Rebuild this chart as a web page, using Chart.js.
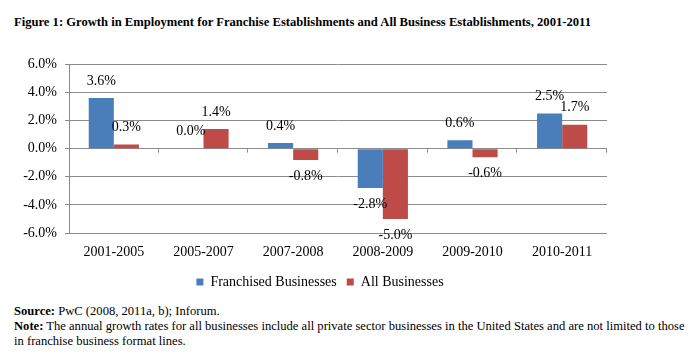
<!DOCTYPE html>
<html>
<head>
<meta charset="utf-8">
<script src="https://cdn.jsdelivr.net/npm/chart.js@4/dist/chart.umd.min.js"></script>
<style>
  body { margin: 0; background: #fff; width: 700px; height: 361px; position: relative; overflow: hidden;
         font-family: "Liberation Serif", "Times New Roman", serif; color: #000; }
  #title { position: absolute; left: 14px; top: 15px; font-weight: bold; font-size: 12.6px; white-space: nowrap; }
  #wrap { position: absolute; left: 0; top: 48px; width: 640px; height: 251px; }
  #notes { position: absolute; left: 14px; top: 304px; font-size: 12.6px; line-height: 15px; white-space: nowrap; }
</style>
</head>
<body>
<div id="title">Figure 1: Growth in Employment for Franchise Establishments and All Business Establishments, 2001-2011</div>
<div id="wrap"><canvas id="chart"></canvas></div>
<div id="notes">
  <div><b>Source:</b> PwC (2008, 2011a, b); Inforum.</div>
  <div><b>Note:</b> The annual growth rates for all businesses include all private sector businesses in the United States and are not limited to those<br>in franchise business format lines.</div>
</div>
<script>
// chart data
const periods = ['2001-2005', '2005-2007', '2007-2008', '2008-2009', '2009-2010', '2010-2011'];
const franchised = [3.6, 0.0, 0.4, -2.8, 0.6, 2.5];
const allBusiness = [0.3, 1.4, -0.8, -5.0, -0.6, 1.7];
const yTicks = [-6, -4, -2, 0, 2, 4, 6];

const serif = '"Liberation Serif", "Times New Roman", serif';
const gridGray = '#8c8c8c';

// value labels beyond the bar ends
const barLabels = {
    id: 'barLabels',
    afterDatasetsDraw(chart) {
        const ctx = chart.ctx;
        ctx.save();
        ctx.font = '14px ' + serif;
        ctx.fillStyle = '#000';
        ctx.textAlign = 'center';
        ctx.textBaseline = 'middle';
        chart.data.datasets.forEach((ds, i) => {
            chart.getDatasetMeta(i).data.forEach((bar, j) => {
                const v = ds.data[j];
                const y = v >= 0 ? bar.y - 17 : bar.y + 16;
                ctx.fillText(v.toFixed(1) + '%', bar.x, y);
            });
        });
        ctx.restore();
    }
};

// small tick marks on the zero line between categories
const zeroTicks = {
    id: 'zeroTicks',
    beforeDatasetsDraw(chart) {
        const xs = chart.scales.x, ys = chart.scales.y;
        const y0 = ys.getPixelForValue(0);
        const step = (xs.right - xs.left) / periods.length;
        const ctx = chart.ctx;
        ctx.save();
        ctx.strokeStyle = gridGray;
        ctx.lineWidth = 1;
        ctx.beginPath();
        for (let i = 1; i <= periods.length; i++) {
            const x = Math.round(xs.left + step * i) - 0.5;
            ctx.moveTo(x, y0);
            ctx.lineTo(x, y0 + 4);
        }
        ctx.stroke();
        ctx.restore();
    }
};

// legend is centred on the whole canvas, not just the padded area
const legendSpan = {
    id: 'legendSpan',
    afterLayout(chart) {
        chart.legend.left = 0;
        chart.legend.right = chart.width;
    }
};

new Chart(document.getElementById('chart'), {
    type: 'bar',
    data: {
        labels: periods,
        datasets: [
            { label: 'Franchised Businesses', data: franchised, backgroundColor: '#4a7ebb' },
            { label: 'All Businesses', data: allBusiness, backgroundColor: '#be4b48' }
        ]
    },
    options: {
        responsive: true,
        maintainAspectRatio: false,
        animation: false,
        events: [],
        layout: { padding: { top: 15, right: 33, left: 0, bottom: 0 } },
        datasets: { bar: { categoryPercentage: 0.56, barPercentage: 1.0 } },
        plugins: {
            tooltip: { enabled: false },
            legend: {
                position: 'bottom',
                labels: { boxWidth: 7, boxHeight: 7, padding: 10, color: '#000', font: { family: serif, size: 14 } }
            }
        },
        scales: {
            x: {
                grid: { display: false, drawTicks: false },
                border: { display: false },
                ticks: { color: '#000', padding: 11, font: { family: serif, size: 14 }, maxRotation: 0 },
                afterFit(scale) { scale.height = 32; }
            },
            y: {
                min: -6, max: 6,
                afterBuildTicks(scale) { scale.ticks = yTicks.map(v => ({ value: v })); },
                grid: { color: gridGray, tickLength: 4 },
                border: { color: gridGray },
                ticks: {
                    color: '#000', padding: 8, font: { family: serif, size: 14 },
                    callback: v => v.toFixed(1) + '%'
                },
                afterFit(scale) { scale.width = 69; }
            }
        }
    },
    plugins: [barLabels, zeroTicks, legendSpan]
});
</script>
</body>
</html>
